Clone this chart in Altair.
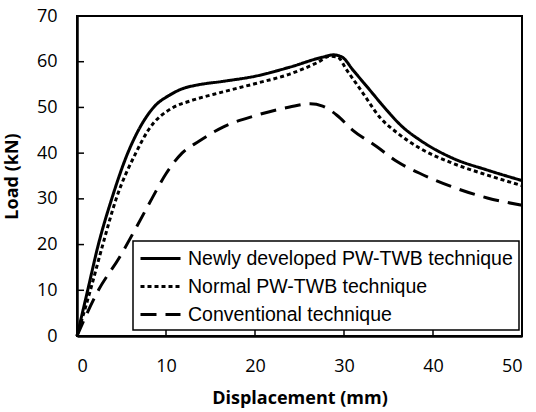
import altair as alt
import pandas as pd

series_names = ["Newly developed PW-TWB technique", "Normal PW-TWB technique", "Conventional technique"]

newly_x = [0, 1.2, 2.4, 3.9, 5.7, 6.9, 8.6, 10.5, 12.0, 13.5, 16.4, 20.2, 23.9, 27.6, 28.8, 29.8, 31.0, 32.9, 34.8, 36.6, 38.5, 42.2, 46.1, 50]
newly_y = [0, 10, 20, 30, 40, 45, 50, 52.8, 54.2, 54.9, 55.7, 56.9, 58.8, 61.0, 61.5, 61.0, 58.2, 53.8, 49.4, 45.7, 42.9, 38.9, 36.3, 34.0]

normal_x = [0, 1.5, 2.9, 4.4, 6.6, 8.0, 10.8, 12.7, 16.4, 20.2, 23.9, 27.0, 28.4, 29.3, 30.3, 32.1, 34.0, 36.0, 38.5, 42.2, 46.1, 50]
normal_y = [0, 10, 20, 30, 40, 45, 50, 51.4, 53.4, 55.3, 57.3, 59.8, 61.2, 61.0, 58.2, 53.2, 47.9, 44.4, 41.1, 37.8, 35.2, 32.9]

conv_x = [0, 2.4, 4.8, 6.7, 8.4, 10.0, 11.8, 13.7, 16.4, 20.2, 23.9, 26.2, 27.6, 29.2, 31.0, 33.7, 36.0, 38.5, 42.2, 46.1, 50]
conv_y = [0, 10, 17.3, 23.9, 30, 35.5, 40, 42.6, 45.7, 48.3, 50.1, 50.8, 50.3, 48.3, 45.0, 41.4, 38.1, 35.6, 32.6, 30.2, 28.6]

x_ticks = [10, 20, 30, 40]
y_ticks = [10, 20, 30, 40, 50, 60]

rows = []
for name, xs, ys in zip(series_names, [newly_x, normal_x, conv_x], [newly_y, normal_y, conv_y]):
    for i, (xv, yv) in enumerate(zip(xs, ys)):
        rows.append({"series": name, "x": xv, "y": yv, "order": i})
df = pd.DataFrame(rows)

x_scale = alt.Scale(domain=[0, 50], nice=False)
y_scale = alt.Scale(domain=[0, 70], nice=False)

lines = alt.Chart(df).mark_line(strokeWidth=3, color="black", interpolate="monotone", strokeCap="butt").encode(
    x=alt.X("x:Q", scale=x_scale,
            axis=alt.Axis(title="Displacement (mm)", values=[0, 10, 20, 30, 40, 50], ticks=False,
                          labelPadding=21, titlePadding=14, labelOverlap=False)),
    y=alt.Y("y:Q", scale=y_scale,
            axis=alt.Axis(title="Load (kN)", values=[0, 10, 20, 30, 40, 50, 60, 70], ticks=False,
                          labelPadding=20, titlePadding=15)),
    strokeDash=alt.StrokeDash(
        "series:N",
        scale=alt.Scale(domain=series_names, range=[[1, 0], [4, 3], [16, 9]]),
        legend=alt.Legend(title=None, orient="none", legendX=56, legendY=225,
                          symbolType="M-2,0L2,0", symbolSize=400, symbolStrokeWidth=3,
                          symbolStrokeColor="black", symbolOffset=10,
                          labelFont="Liberation Sans",
                          labelFontSize=19.5, labelColor="black", labelLimit=500,
                          strokeColor="black", fillColor="white", padding=6,
                          rowPadding=7, labelOffset=16),
    ),
    order="order:Q",
)

xtick_df = pd.DataFrame({"x": x_ticks})
xticks = alt.Chart(xtick_df).mark_rule(color="black", strokeWidth=1.5).encode(
    x=alt.X("x:Q", scale=x_scale),
    y=alt.value(320),
    y2=alt.value(313),
)

ytick_df = pd.DataFrame({"y": y_ticks})
yticks = alt.Chart(ytick_df).mark_rule(color="black", strokeWidth=1.5).encode(
    y=alt.Y("y:Q", scale=y_scale),
    x=alt.value(0),
    x2=alt.value(7),
)

chart = alt.layer(lines, xticks, yticks).properties(
    width=445, height=320,
    autosize=alt.AutoSizeParams(type="none"),
    padding={"left": 77, "top": 16, "right": 14, "bottom": 76},
).configure_view(
    stroke="black", strokeWidth=2
).configure_axis(
    domainColor="black", domainWidth=2.5,
    grid=False, labelFont="Open Sans", labelFontSize=18, labelColor="black",
    titleFont="Open Sans", titleFontSize=18, titleFontWeight="bold", titleColor="black",
).configure_legend(
    strokeWidth=1.5
)

chart.save("out.html", embed_options={"renderer": "svg", "actions": False})
